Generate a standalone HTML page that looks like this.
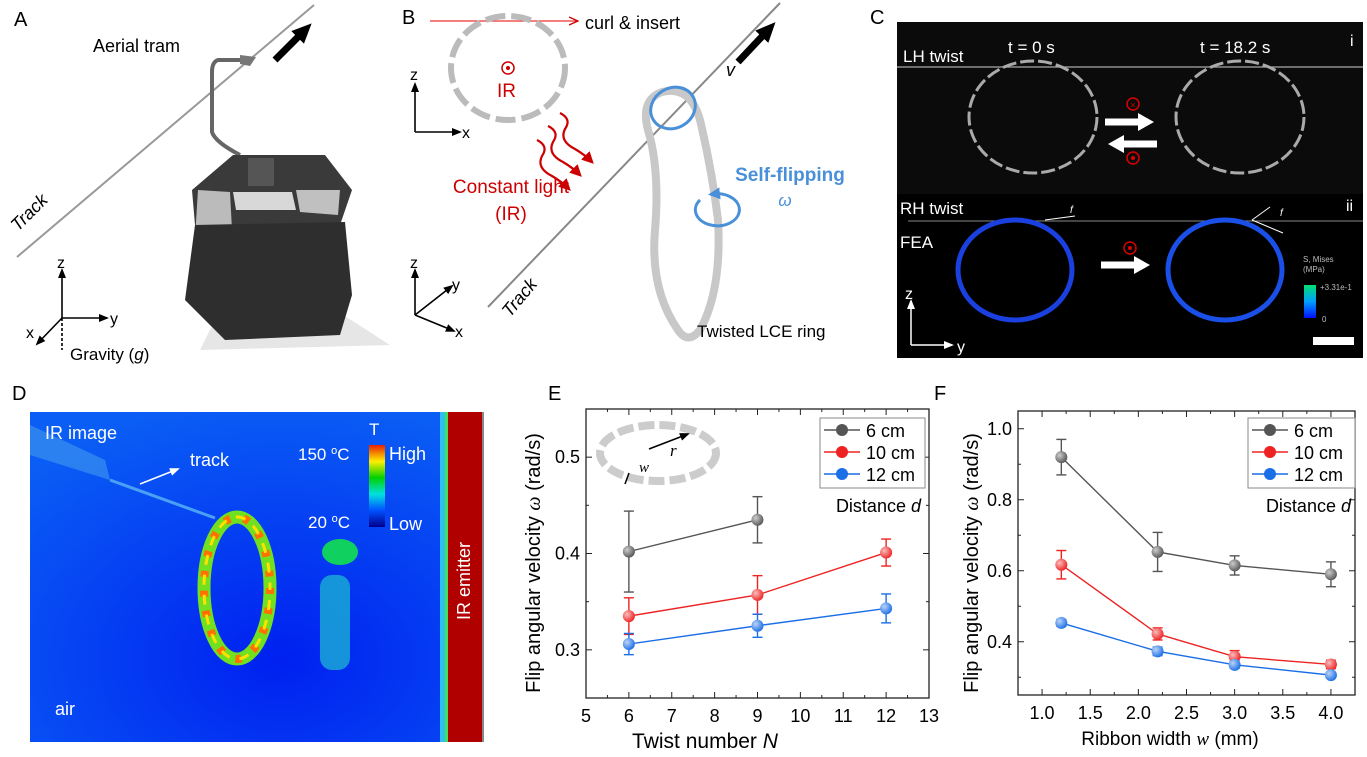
<!DOCTYPE html>
<html><head><meta charset="utf-8"><style>
html,body{margin:0;padding:0;background:#fff}
svg{display:block;font-family:"Liberation Sans",Arial,sans-serif}
</style></head><body>
<svg id="s" width="1367" height="757" viewBox="0 0 1367 757" xmlns="http://www.w3.org/2000/svg" style="position:absolute;left:0;top:0">
<defs>
<marker id="ak" markerUnits="userSpaceOnUse" markerWidth="10" markerHeight="10" refX="8" refY="5" orient="auto"><path d="M0,1 L10,5 L0,9 z" fill="#000"/></marker>
<marker id="akb" markerUnits="userSpaceOnUse" markerWidth="20" markerHeight="20" refX="12" refY="10" orient="auto"><path d="M0,1 L20,10 L0,19 z" fill="#000"/></marker>
<marker id="ar" markerUnits="userSpaceOnUse" markerWidth="10" markerHeight="10" refX="9" refY="5" orient="auto"><path d="M0,1 L9,5 L0,9" fill="none" stroke="#c00" stroke-width="1.3"/></marker>
<marker id="ard" markerUnits="userSpaceOnUse" markerWidth="12" markerHeight="12" refX="8" refY="6" orient="auto"><path d="M0,0 L12,6 L0,12 z" fill="#c00"/></marker>
<marker id="aw" markerUnits="userSpaceOnUse" markerWidth="10" markerHeight="10" refX="8" refY="5" orient="auto"><path d="M0,1 L10,5 L0,9 z" fill="#fff"/></marker>
<marker id="awb" markerUnits="userSpaceOnUse" markerWidth="16" markerHeight="18" refX="4" refY="9" orient="auto"><path d="M0,0 L16,9 L0,18 z" fill="#fff"/></marker>
<marker id="ab" markerUnits="userSpaceOnUse" markerWidth="12" markerHeight="12" refX="6" refY="6" orient="auto"><path d="M0,0 L12,6 L0,12 z" fill="#4a90d9"/></marker>
<linearGradient id="cb" x1="0" y1="1" x2="0" y2="0"><stop offset="0" stop-color="#00008b"/><stop offset="0.2" stop-color="#0050ff"/><stop offset="0.4" stop-color="#00e0e0"/><stop offset="0.6" stop-color="#00d000"/><stop offset="0.8" stop-color="#ffee00"/><stop offset="1" stop-color="#e82000"/></linearGradient>
<linearGradient id="fe" x1="0" y1="1" x2="0" y2="0"><stop offset="0" stop-color="#0010ff"/><stop offset="0.5" stop-color="#00a0ff"/><stop offset="1" stop-color="#00e070"/></linearGradient>
<radialGradient id="dbg" cx="0.55" cy="0.75" r="0.8"><stop offset="0" stop-color="#0020f0"/><stop offset="1" stop-color="#0a5ef5"/></radialGradient>
<radialGradient id="ball" cx="0.35" cy="0.35" r="0.7"><stop offset="0" stop-color="#fff" stop-opacity="0.7"/><stop offset="1" stop-color="#fff" stop-opacity="0"/></radialGradient>
</defs>

<!-- Panel A -->
<text x="14" y="26" font-size="20">A</text>
<line x1="17" y1="257" x2="314" y2="5" stroke="#999" stroke-width="2"/>
<text x="0" y="0" font-size="18" font-style="italic" transform="translate(18,232) rotate(-45)">Track</text>
<text x="93" y="52" font-size="18">Aerial tram</text>
<line x1="275" y1="60" x2="306" y2="29" stroke="#000" stroke-width="7" marker-end="url(#akb)"/>
<path d="M240,60 L218,60 Q212,62 212,72 L212,132 Q215,142 240,155" fill="none" stroke="#666" stroke-width="4"/>
<path d="M240,55 L256,57 L250,66 L240,64 z" fill="#777"/>
<polygon points="200,350 390,345 320,300 215,320" fill="#e6e6e6"/>
<polygon points="233,155 325,155 352,190 340,225 195,225 192,190" fill="#3a3a3a"/>
<polygon points="233,192 292,192 296,210 236,210" fill="#d8d8d8"/>
<polygon points="296,190 340,190 338,215 300,212" fill="#c0c0c0"/>
<polygon points="198,190 230,192 232,230 195,238" fill="#bbb"/>
<polygon points="195,225 345,222 352,295 340,335 225,340 185,300" fill="#2e2e2e"/>
<rect x="248" y="158" width="26" height="28" fill="#555"/>
<g stroke="#000" stroke-width="1.6" fill="none">
<line x1="62" y1="318" x2="62" y2="270" marker-end="url(#ak)"/>
<line x1="62" y1="318" x2="107" y2="318" marker-end="url(#ak)"/>
<line x1="62" y1="318" x2="37" y2="344" marker-end="url(#ak)"/>
<line x1="62" y1="318" x2="62" y2="350" stroke-dasharray="3,2"/>
</g>
<text x="57" y="268" font-size="16">z</text>
<text x="110" y="324" font-size="16">y</text>
<text x="26" y="338" font-size="16">x</text>
<text x="70" y="360" font-size="17">Gravity (<tspan font-style="italic">g</tspan>)</text>

<!-- Panel B -->
<text x="402" y="24" font-size="20">B</text>
<line x1="430" y1="21" x2="578" y2="21" stroke="#e33" stroke-width="1.3" marker-end="url(#ar)"/>
<text x="585" y="29" font-size="18">curl &amp; insert</text>
<ellipse cx="508" cy="68" rx="57" ry="52" fill="none" stroke="#bbb" stroke-width="6" stroke-dasharray="20,6"/>
<circle cx="508" cy="68" r="6" fill="none" stroke="#c00" stroke-width="1.5"/><circle cx="508" cy="68" r="2" fill="#c00"/>
<text x="497" y="97" font-size="19" fill="#c00">IR</text>
<g stroke="#000" stroke-width="1.6">
<line x1="415" y1="132" x2="415" y2="84" marker-end="url(#ak)"/>
<line x1="415" y1="132" x2="460" y2="132" marker-end="url(#ak)"/>
<line x1="415" y1="315" x2="415" y2="270" marker-end="url(#ak)"/>
<line x1="415" y1="315" x2="452" y2="286" marker-end="url(#ak)"/>
<line x1="415" y1="315" x2="454" y2="331" marker-end="url(#ak)"/>
</g>
<text x="410" y="80" font-size="16">z</text><text x="462" y="138" font-size="16">x</text>
<text x="410" y="268" font-size="16">z</text><text x="452" y="290" font-size="16">y</text><text x="455" y="337" font-size="16">x</text>
<g fill="none" stroke="#c00" stroke-width="2.2">
<path d="M560,113 q12,6 5,16 q-6,12 10,20 q10,6 16,12" marker-end="url(#ard)"/>
<path d="M548,126 q12,6 5,16 q-6,12 10,20 q10,6 16,12" marker-end="url(#ard)"/>
<path d="M537,140 q12,6 5,16 q-6,12 10,20 q10,6 16,12" marker-end="url(#ard)"/>
</g>
<text x="511" y="193" font-size="19" fill="#c00" text-anchor="middle">Constant light</text>
<text x="511" y="220" font-size="19" fill="#c00" text-anchor="middle">(IR)</text>
<line x1="488" y1="307" x2="780" y2="3" stroke="#888" stroke-width="2"/>
<text x="0" y="0" font-size="18" font-style="italic" transform="translate(510,318) rotate(-50)">Track</text>
<line x1="738" y1="62" x2="770" y2="28" stroke="#000" stroke-width="7" marker-end="url(#akb)"/>
<text x="726" y="76" font-size="18" font-style="italic">v</text>
<path d="M662,92 Q690,85 700,120 Q712,170 718,220 Q722,290 700,330 Q688,345 678,330 Q650,290 655,230 Q660,170 648,130 Q640,100 662,92 z" fill="none" stroke="#c8c8c8" stroke-width="8"/>
<ellipse cx="673" cy="108" rx="23" ry="20" fill="none" stroke="#4a90d9" stroke-width="3" transform="rotate(-30 673 108)"/>
<path d="M700,200 a22,16 0 1,0 14,-6" fill="none" stroke="#4a90d9" stroke-width="3" marker-end="url(#ab)"/>
<text x="790" y="181" font-size="19" fill="#4a90d9" font-weight="bold" text-anchor="middle">Self-flipping</text>
<text x="785" y="206" font-size="17" fill="#4a90d9" font-style="italic" text-anchor="middle">ω</text>
<text x="697" y="337" font-size="17">Twisted LCE ring</text>

<!-- Panel C -->
<text x="870" y="24" font-size="20">C</text>
<rect x="897" y="22" width="466" height="336" fill="#000"/>
<rect x="897" y="22" width="466" height="172" fill="#0b0b0b"/>
<line x1="897" y1="67" x2="1363" y2="67" stroke="#aaa" stroke-width="1.2"/>
<line x1="908" y1="221" x2="1363" y2="221" stroke="#888" stroke-width="1"/>
<text x="903" y="62" font-size="17" fill="#fff">LH twist</text>
<text x="1008" y="53" font-size="17" fill="#fff">t = 0 s</text>
<text x="1200" y="53" font-size="17" fill="#fff">t = 18.2 s</text>
<text x="1350" y="46" font-size="16" fill="#fff">i</text>
<text x="1346" y="211" font-size="16" fill="#fff">ii</text>
<ellipse cx="1033" cy="117" rx="64" ry="56" fill="none" stroke="#aaa" stroke-width="3" stroke-dasharray="14,4"/>
<ellipse cx="1240" cy="117" rx="64" ry="56" fill="none" stroke="#aaa" stroke-width="3" stroke-dasharray="14,4"/>
<line x1="1105" y1="122" x2="1142" y2="122" stroke="#fff" stroke-width="7" marker-end="url(#awb)"/>
<line x1="1157" y1="144" x2="1120" y2="144" stroke="#fff" stroke-width="7" marker-end="url(#awb)"/>
<circle cx="1133" cy="104" r="6" fill="none" stroke="#d00" stroke-width="1.5"/><text x="1133" y="108" font-size="9" fill="#d00" text-anchor="middle">×</text>
<circle cx="1133" cy="158" r="6" fill="none" stroke="#d00" stroke-width="1.5"/><circle cx="1133" cy="158" r="2" fill="#d00"/>
<text x="900" y="214" font-size="17" fill="#fff">RH twist</text>
<text x="900" y="248" font-size="17" fill="#fff">FEA</text>
<ellipse cx="1015" cy="270" rx="57" ry="50" fill="none" stroke="#1a40e0" stroke-width="5"/>
<ellipse cx="1225" cy="270" rx="57" ry="50" fill="none" stroke="#1a50e8" stroke-width="5"/>
<line x1="1045" y1="220" x2="1075" y2="216" stroke="#fff" stroke-width="1"/>
<text x="1070" y="213" font-size="10" fill="#fff" font-style="italic">f</text>
<line x1="1252" y1="220" x2="1270" y2="207" stroke="#fff" stroke-width="1"/>
<line x1="1252" y1="220" x2="1283" y2="233" stroke="#fff" stroke-width="1"/>
<text x="1280" y="216" font-size="10" fill="#fff" font-style="italic">f</text>
<line x1="1101" y1="265" x2="1138" y2="265" stroke="#fff" stroke-width="7" marker-end="url(#awb)"/>
<circle cx="1130" cy="248" r="6" fill="none" stroke="#d00" stroke-width="1.5"/><circle cx="1130" cy="248" r="2" fill="#d00"/>
<text x="1303" y="262" font-size="8" fill="#bbb">S, Mises</text><text x="1303" y="272" font-size="8" fill="#bbb">(MPa)</text>
<rect x="1304" y="285" width="12" height="33" fill="url(#fe)"/>
<text x="1320" y="290" font-size="8" fill="#bbb">+3.31e-1</text><text x="1322" y="322" font-size="8" fill="#bbb">0</text>
<rect x="1313" y="337" width="41" height="8" fill="#fff"/>
<g stroke="#fff" stroke-width="1.5"><line x1="911" y1="345" x2="911" y2="301" marker-end="url(#aw)"/><line x1="911" y1="345" x2="952" y2="345" marker-end="url(#aw)"/></g>
<text x="905" y="299" font-size="16" fill="#fff">z</text><text x="957" y="352" font-size="16" fill="#fff">y</text>

<!-- Panel D -->
<text x="12" y="400" font-size="20">D</text>
<rect x="30" y="412" width="454" height="330" fill="url(#dbg)"/>
<polygon points="30,425 105,460 110,480 30,455" fill="#3a90f0" opacity="0.7"/>
<line x1="110" y1="480" x2="215" y2="518" stroke="#4aa0f5" stroke-width="3"/>
<rect x="320" y="575" width="30" height="95" rx="12" fill="#20c0d0" opacity="0.7"/>
<ellipse cx="340" cy="552" rx="18" ry="13" fill="#10d060"/>
<rect x="440" y="412" width="8" height="330" fill="#30c0f0"/>
<rect x="445" y="412" width="4" height="330" fill="#40e060"/>
<rect x="448" y="412" width="34" height="330" fill="#b00000"/>
<rect x="482" y="412" width="2" height="330" fill="#888"/>
<ellipse cx="237" cy="588" rx="33" ry="71" fill="none" stroke="#70e020" stroke-width="13"/>
<ellipse cx="237" cy="588" rx="33" ry="71" fill="none" stroke="#ff7000" stroke-width="8" stroke-dasharray="6,14"/>
<ellipse cx="237" cy="588" rx="33" ry="71" fill="none" stroke="#ffe000" stroke-width="3" stroke-dasharray="10,10" stroke-dashoffset="8"/>
<text x="45" y="439" font-size="18" fill="#fff">IR image</text>
<text x="190" y="466" font-size="18" fill="#fff">track</text>
<line x1="140" y1="484" x2="178" y2="469" stroke="#fff" stroke-width="1.5" marker-end="url(#aw)"/>
<text x="55" y="715" font-size="18" fill="#fff">air</text>
<text x="298" y="460" font-size="17" fill="#fff">150 <tspan font-size="11" dy="-6">o</tspan><tspan dy="6">C</tspan></text>
<text x="308" y="528" font-size="17" fill="#fff">20 <tspan font-size="11" dy="-6">o</tspan><tspan dy="6">C</tspan></text>
<rect x="369" y="445" width="16" height="82" fill="url(#cb)"/>
<text x="369" y="435" font-size="17" fill="#fff">T</text>
<text x="389" y="460" font-size="18" fill="#fff">High</text>
<text x="389" y="530" font-size="18" fill="#fff">Low</text>
<text x="0" y="0" font-size="18" fill="#fff" transform="translate(470,620) rotate(-90)">IR emitter</text>

<!-- Panel E / F labels -->
<text x="548" y="400" font-size="20">E</text>
<text x="934" y="400" font-size="20">F</text>
<g id="charts"></g>

<!-- E inset -->
<ellipse cx="658" cy="453" rx="58" ry="28" fill="none" stroke="#ccc" stroke-width="8" stroke-dasharray="16,5"/>
<line x1="649" y1="449" x2="688" y2="434" stroke="#000" stroke-width="1.5" marker-end="url(#ak)"/>
<text x="670" y="456" font-size="17" font-style="italic" font-family="Liberation Serif,serif">r</text>
<text x="639" y="472" font-size="15" font-style="italic" font-family="Liberation Serif,serif">w</text>
<line x1="629" y1="473" x2="625" y2="484" stroke="#000" stroke-width="1.5"/>
<text x="0" y="0" font-size="20" text-anchor="middle" transform="translate(540,563) rotate(-90)">Flip angular velocity <tspan font-style="italic" font-family="Liberation Serif,serif">ω</tspan> (rad/s)</text>
<text x="705" y="748" font-size="21" text-anchor="middle">Twist number <tspan font-style="italic">N</tspan></text>
<text x="0" y="0" font-size="20" text-anchor="middle" transform="translate(978,563) rotate(-90)">Flip angular velocity <tspan font-style="italic" font-family="Liberation Serif,serif">ω</tspan> (rad/s)</text>
<text x="1170" y="745" font-size="19" text-anchor="middle">Ribbon width <tspan font-style="italic" font-family="Liberation Serif,serif">w</tspan> (mm)</text>
</svg>
<script>
var NS="http://www.w3.org/2000/svg",g=document.getElementById("charts");
function el(t,a,txt){var e=document.createElementNS(NS,t);for(var k in a)e.setAttribute(k,a[k]);if(txt!=null)e.textContent=txt;g.appendChild(e);return e;}
var cols=["#555555","#ee2222","#1a6ee6"];
function chart(o){
 var X=function(v){return o.x0+(v-o.xmin)/(o.xmax-o.xmin)*(o.x1-o.x0)};
 var Y=function(v){return o.y1-(v-o.ymin)/(o.ymax-o.ymin)*(o.y1-o.y0)};
 el("rect",{x:o.x0,y:o.y0,width:o.x1-o.x0,height:o.y1-o.y0,fill:"none",stroke:"#222","stroke-width":1.3});
 for(var v=o.xt0;v<=o.xmax+1e-9;v+=o.xminor){var x=X(v),maj=Math.abs(Math.round(v/o.xmajor)*o.xmajor-v)<1e-6,L=maj?6:3;
  el("line",{x1:x,y1:o.y1,x2:x,y2:o.y1-L,stroke:"#222"});el("line",{x1:x,y1:o.y0,x2:x,y2:o.y0+L,stroke:"#222"});
  if(maj&&v>=o.xmin-1e-9)el("text",{x:x,y:o.y1+24,"font-size":18,"text-anchor":"middle"},o.xf(v));}
 for(var v=o.yt0;v<=o.ymax+1e-9;v+=o.yminor){var y=Y(v),maj=Math.abs(Math.round(v/o.ymajor)*o.ymajor-v)<1e-6,L=maj?6:3;
  el("line",{x1:o.x0,y1:y,x2:o.x0+L,y2:y,stroke:"#222"});el("line",{x1:o.x1,y1:y,x2:o.x1-L,y2:y,stroke:"#222"});
  if(maj)el("text",{x:o.x0-6,y:y+6,"font-size":18,"text-anchor":"end"},v.toFixed(1));}
 o.data.forEach(function(s,i){var c=cols[i];
  el("polyline",{points:s.map(function(p){return X(p[0])+","+Y(p[1])}).join(" "),fill:"none",stroke:c,"stroke-width":1.4});
  s.forEach(function(p){var x=X(p[0]),a=Y(p[1]+p[2]),b=Y(p[1]-p[2]);
   el("line",{x1:x,y1:a,x2:x,y2:b,stroke:c,"stroke-width":1.4});
   el("line",{x1:x-5,y1:a,x2:x+5,y2:a,stroke:c,"stroke-width":1.4});
   el("line",{x1:x-5,y1:b,x2:x+5,y2:b,stroke:c,"stroke-width":1.4});
   el("circle",{cx:x,cy:Y(p[1]),r:6,fill:c});el("circle",{cx:x,cy:Y(p[1]),r:6,fill:"url(#ball)"});});});
 var lx=o.lx,ly=o.ly;
 el("rect",{x:lx,y:ly,width:o.lw,height:70,fill:"#fff",stroke:"#888"});
 ["6 cm","10 cm","12 cm"].forEach(function(t,i){var yy=ly+12+i*22;
  el("line",{x1:lx+4,y1:yy,x2:lx+40,y2:yy,stroke:cols[i],"stroke-width":1.4});
  el("circle",{cx:lx+22,cy:yy,r:6,fill:cols[i]});
  el("text",{x:lx+46,y:yy+7,"font-size":18},t);});
 var t=el("text",{x:lx+o.lw-4,y:ly+94,"font-size":18,"text-anchor":"end"},"Distance ");
 var ts=document.createElementNS(NS,"tspan");ts.setAttribute("font-style","italic");ts.textContent="d";t.appendChild(ts);
}
chart({x0:586,x1:929,y0:409,y1:698,xmin:5,xmax:13,ymin:0.25,ymax:0.55,xt0:5,xminor:0.5,xmajor:1,yt0:0.25,yminor:0.05,ymajor:0.1,
 xf:function(v){return String(Math.round(v))},lx:820,ly:418,lw:105,
 data:[[[6,0.402,0.042],[9,0.435,0.024]],[[6,0.335,0.019],[9,0.357,0.02],[12,0.401,0.014]],[[6,0.306,0.011],[9,0.325,0.012],[12,0.343,0.015]]]});
chart({x0:1018,x1:1355,y0:411,y1:695,xmin:0.75,xmax:4.25,ymin:0.25,ymax:1.05,xt0:0.75,xminor:0.25,xmajor:0.5,yt0:0.3,yminor:0.1,ymajor:0.2,
 xf:function(v){return v.toFixed(1)},lx:1248,ly:418,lw:107,
 data:[[[1.2,0.92,0.05],[2.2,0.653,0.055],[3.0,0.615,0.027],[4.0,0.59,0.035]],[[1.2,0.617,0.04],[2.2,0.422,0.017],[3.0,0.358,0.017],[4.0,0.336,0.012]],[[1.2,0.453,0.01],[2.2,0.373,0.012],[3.0,0.335,0.01],[4.0,0.306,0.008]]]});
</script>
</body></html>
